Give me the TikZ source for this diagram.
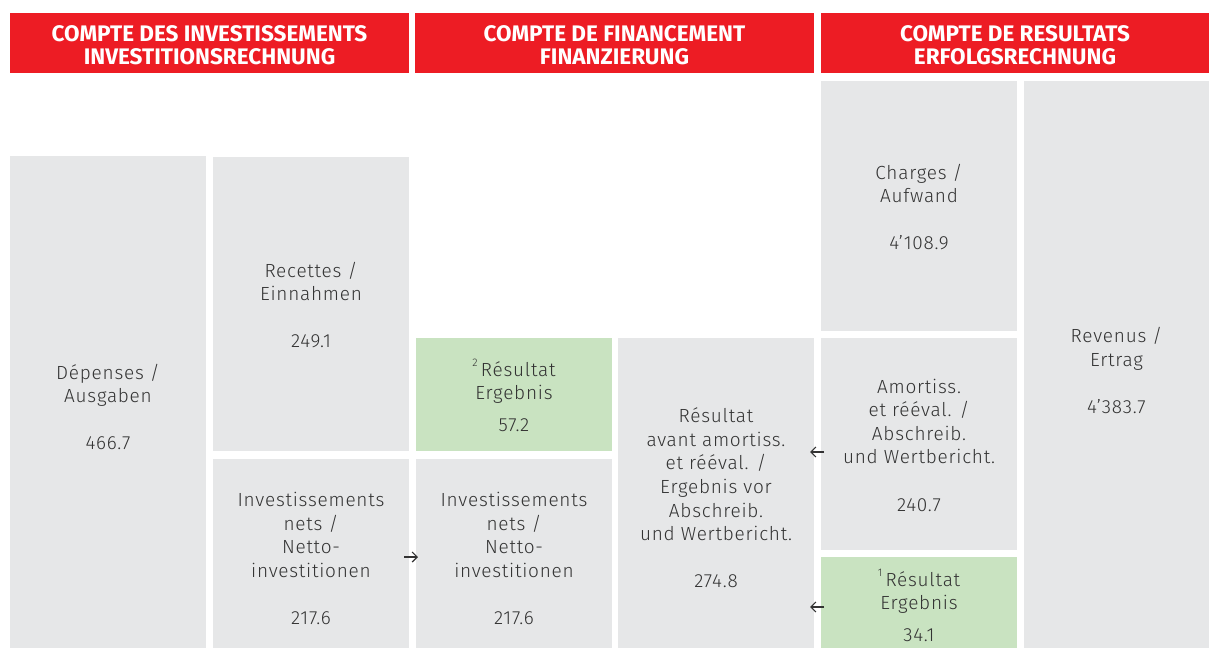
\documentclass[tikz,border=0pt]{standalone}
\usepackage{fontspec}
\setmainfont{Fira Sans}
\newfontfamily\bodyfam{Fira Sans}[UprightFont=* Light, LetterSpace=4]
\usetikzlibrary{arrows.meta,calc}
\definecolor{hdrred}{HTML}{ED1C24}
\definecolor{boxgray}{HTML}{E6E7E8}
\definecolor{boxgreen}{HTML}{C9E3C1}
\definecolor{txt}{HTML}{333333}
\newcommand{\bodyfnt}{\bodyfam\fontsize{19}{23.6}\selectfont}
\newcommand{\hdrfnt}{\fontsize{22.5}{23.5}\selectfont\bfseries}
\newcommand{\supnum}[1]{\raisebox{0.5em}{\fontsize{11}{11}\selectfont #1}\,}
\begin{document}
\begin{tikzpicture}[x=1pt,y=-1pt,
  hdr/.style={fill=hdrred, inner sep=0pt, outer sep=0pt, minimum height=60pt},
  hdrtext/.style={text=white, inner sep=0pt, align=center, font=\hdrfnt},
  graybox/.style={fill=boxgray, inner sep=0pt, outer sep=0pt, minimum width=196pt},
  greenbox/.style={graybox, fill=boxgreen},
  boxtext/.style={text=txt, inner sep=0pt, align=center, font=\bodyfnt},
  arr/.style={-{Straight Barb[length=5pt,width=10pt]}, line width=1.2pt, draw=txt}]
\useasboundingbox (0,0) rectangle (1209,648);
% headers
\node[hdr, minimum width=399pt] (h1) at (209.5,43) {};
\node[hdr, minimum width=399pt] (h2) at (614.5,43) {};
\node[hdr, minimum width=388pt] (h3) at (1015,43) {};
\node[hdrtext] (h1t) at ($(h1.center)+(0,2)$) {COMPTE DES INVESTISSEMENTS\\INVESTITIONSRECHNUNG};
\node[hdrtext] (h2t) at ($(h2.center)+(0,2)$) {COMPTE DE FINANCEMENT\\FINANZIERUNG};
\node[hdrtext] (h3t) at ($(h3.center)+(0,2)$) {COMPTE DE RESULTATS\\ERFOLGSRECHNUNG};
% boxes
\node[graybox, minimum height=492pt] (dep) at (108,402) {};
\node[graybox, minimum height=294pt] (rec) at (311,304) {};
\node[graybox, minimum height=189pt] (invL) at (311,553.5) {};
\node[greenbox, minimum height=113pt] (res2) at (514,394.5) {};
\node[graybox, minimum height=189pt] (invM) at (514,553.5) {};
\node[graybox, minimum height=310pt] (ravant) at (716,493) {};
\node[graybox, minimum height=250pt] (chg) at (919,206) {};
\node[graybox, minimum height=212pt] (amort) at (919,444) {};
\node[greenbox, minimum height=91pt] (res1) at (919,602.5) {};
\node[graybox, minimum width=185pt, minimum height=567pt] (rev) at (1116.5,364.5) {};
% texts
\node[boxtext] (dept) at ($(dep.center)+(0,5)$) {Dépenses /\\Ausgaben\\[23.6pt]466.7};
\node[boxtext] (rect) at ($(rec.center)+(0,1)$) {Recettes /\\Einnahmen\\[23.6pt]249.1};
\node[boxtext] (invLt) at ($(invL.center)+(0,5)$) {Investissements\\nets /\\Netto-\\investitionen\\[23.6pt]217.6};
\node[boxtext] (res2t) at ($(res2.center)+(0,1)$) {\supnum{2}Résultat\\Ergebnis\\[8pt]57.2};
\node[boxtext] (invMt) at ($(invM.center)+(0,5)$) {Investissements\\nets /\\Netto-\\investitionen\\[23.6pt]217.6};
\node[boxtext] (ravantt) at ($(ravant.center)+(0,5)$) {Résultat\\avant amortiss.\\et réév{}al. /\\Ergebnis vor\\Abschreib.\\und Wertbericht.\\[23.6pt]274.8};
\node[boxtext] (chgt) at ($(chg.center)+(0,1)$) {Charges /\\Aufwand\\[23.6pt]4’108.9};
\node[boxtext] (amortt) at ($(amort.center)+(0,1)$) {Amortiss.\\et réév{}al. /\\Abschreib.\\und Wertbericht.\\[23.6pt]240.7};
\node[boxtext] (res1t) at ($(res1.center)+(0,3)$) {\supnum{1}Résultat\\Ergebnis\\[8pt]34.1};
\node[boxtext] (revt) at ($(rev.center)+(0,6)$) {Revenus /\\Ertrag\\[23.6pt]4’383.7};
% arrows
\draw[arr] ($(invL.east)+(-5,3.5)$) -- ($(invM.west)+(2,3.5)$);
\draw[arr] ($(amort.west)+(3,8)$) -- ($(ravant.east)+(-4,-41)$);
\draw[arr] ($(res1.west)+(3,4.5)$) -- ($(ravant.east)+(-4,114)$);
\end{tikzpicture}
\end{document}
